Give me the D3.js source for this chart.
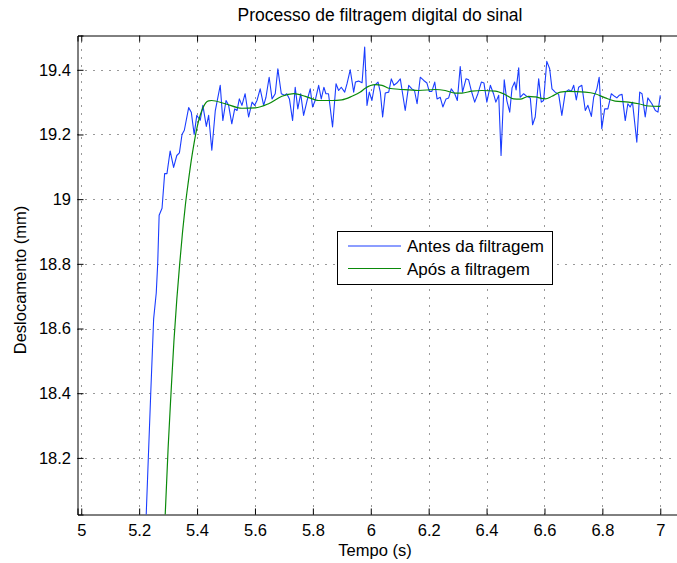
<!DOCTYPE html>
<html>
<head>
<meta charset="utf-8">
<script src="https://cdn.jsdelivr.net/npm/d3@7"></script>
<style>
  html, body { margin: 0; padding: 0; background: #fff; }
  svg { display: block; font-family: "Liberation Sans", Arial, Helvetica, sans-serif; }
</style>
</head>
<body>
<svg id="chart" width="677" height="563"></svg>
<script>
// ---- Data ----
const chartTitle = "Processo de filtragem digital do sinal";
const xLabel = "Tempo (s)";
const yLabel = "Deslocamento (mm)";
const seriesNames = ["Antes da filtragem", "Após a filtragem"];

const xTicks = [5, 5.2, 5.4, 5.6, 5.8, 6, 6.2, 6.4, 6.6, 6.8, 7];
const yTicks = [18.2, 18.4, 18.6, 18.8, 19, 19.2, 19.4];
const xLimits = [4.987, 7.0785];
const yLimits = [18.025, 19.506];

// Raw signal (blue)
const rawTime = [
  5.220, 5.230, 5.240, 5.250, 5.259, 5.264, 5.269, 5.279, 5.288, 5.296,
  5.307, 5.319, 5.330, 5.339, 5.348, 5.356, 5.371, 5.380, 5.390, 5.399,
  5.411, 5.420, 5.432, 5.440, 5.451, 5.463, 5.480, 5.489, 5.500, 5.509,
  5.520, 5.530, 5.538, 5.546, 5.555, 5.566, 5.578, 5.590, 5.599, 5.607,
  5.618, 5.630, 5.638, 5.649, 5.659, 5.670, 5.679, 5.691, 5.702, 5.710,
  5.719, 5.730, 5.739, 5.748, 5.758, 5.768, 5.780, 5.791, 5.799, 5.808,
  5.820, 5.829, 5.838, 5.845, 5.854, 5.868, 5.880, 5.889, 5.898, 5.910,
  5.918, 5.929, 5.941, 5.947, 5.958, 5.970, 5.979, 5.987, 5.995, 6.004,
  6.013, 6.025, 6.033, 6.041, 6.050, 6.062, 6.071, 6.080, 6.090, 6.102,
  6.110, 6.119, 6.131, 6.142, 6.151, 6.160, 6.171, 6.183, 6.194, 6.202,
  6.211, 6.221, 6.229, 6.240, 6.249, 6.260, 6.269, 6.278, 6.290, 6.299,
  6.309, 6.317, 6.329, 6.338, 6.347, 6.359, 6.370, 6.382, 6.391, 6.401,
  6.413, 6.424, 6.432, 6.442, 6.450, 6.461, 6.470, 6.480, 6.488, 6.497,
  6.502, 6.511, 6.516, 6.528, 6.539, 6.551, 6.559, 6.568, 6.580, 6.589,
  6.597, 6.608, 6.618, 6.626, 6.637, 6.649, 6.660, 6.672, 6.683, 6.693,
  6.701, 6.710, 6.718, 6.729, 6.741, 6.750, 6.762, 6.770, 6.781, 6.789,
  6.798, 6.808, 6.819, 6.831, 6.842, 6.850, 6.858, 6.868, 6.879, 6.888,
  6.896, 6.904, 6.919, 6.929, 6.937, 6.948, 6.957, 6.971, 6.983, 6.992,
  7.000
];
const rawValue = [
  17.920, 18.160, 18.400, 18.630, 18.710, 18.800, 18.950, 18.972, 19.079, 19.079,
  19.149, 19.098, 19.135, 19.143, 19.200, 19.213, 19.283, 19.269, 19.200, 19.259,
  19.244, 19.290, 19.225, 19.259, 19.151, 19.274, 19.352, 19.243, 19.305, 19.290,
  19.233, 19.279, 19.274, 19.310, 19.290, 19.326, 19.254, 19.300, 19.290, 19.305,
  19.341, 19.290, 19.315, 19.377, 19.310, 19.326, 19.403, 19.326, 19.321, 19.326,
  19.310, 19.243, 19.346, 19.279, 19.326, 19.259, 19.305, 19.341, 19.285, 19.305,
  19.352, 19.310, 19.346, 19.326, 19.326, 19.223, 19.357, 19.336, 19.346, 19.331,
  19.357, 19.400, 19.331, 19.362, 19.365, 19.360, 19.470, 19.290, 19.331, 19.305,
  19.352, 19.362, 19.331, 19.254, 19.328, 19.331, 19.372, 19.352, 19.359, 19.372,
  19.326, 19.274, 19.352, 19.341, 19.336, 19.295, 19.377, 19.367, 19.359, 19.333,
  19.333, 19.362, 19.310, 19.315, 19.285, 19.310, 19.313, 19.341, 19.326, 19.305,
  19.410, 19.331, 19.372, 19.369, 19.336, 19.300, 19.326, 19.362, 19.359, 19.300,
  19.352, 19.326, 19.300, 19.321, 19.135, 19.369, 19.305, 19.269, 19.344, 19.362,
  19.338, 19.406, 19.315, 19.326, 19.318, 19.313, 19.230, 19.254, 19.372, 19.300,
  19.305, 19.426, 19.403, 19.341, 19.331, 19.324, 19.259, 19.331, 19.338, 19.334,
  19.352, 19.307, 19.346, 19.352, 19.274, 19.290, 19.256, 19.315, 19.341, 19.377,
  19.218, 19.279, 19.279, 19.326, 19.318, 19.313, 19.321, 19.324, 19.243, 19.295,
  19.285, 19.300, 19.176, 19.331, 19.326, 19.254, 19.313, 19.295, 19.274, 19.269,
  19.321
];

// Filtered signal (green)
const filtTime = [
  5.280, 5.290, 5.300, 5.310, 5.320, 5.330, 5.340, 5.350, 5.360, 5.370,
  5.380, 5.390, 5.400, 5.410, 5.420, 5.430, 5.440, 5.450, 5.497, 5.555,
  5.601, 5.647, 5.693, 5.734, 5.774, 5.820, 5.866, 5.900, 5.935, 5.964,
  5.981, 6.016, 6.039, 6.062, 6.108, 6.165, 6.223, 6.257, 6.292, 6.315,
  6.350, 6.384, 6.430, 6.465, 6.493, 6.516, 6.545, 6.568, 6.603, 6.626,
  6.655, 6.683, 6.741, 6.775, 6.810, 6.844, 6.890, 6.925, 6.960, 7.000
];
const filtValue = [
  17.800, 18.025, 18.230, 18.400, 18.560, 18.690, 18.800, 18.900, 18.985, 19.055,
  19.120, 19.175, 19.222, 19.257, 19.282, 19.298, 19.304, 19.305, 19.295, 19.281,
  19.282, 19.295, 19.318, 19.326, 19.318, 19.305, 19.305, 19.307, 19.318, 19.331,
  19.343, 19.354, 19.352, 19.343, 19.339, 19.336, 19.339, 19.336, 19.328, 19.328,
  19.334, 19.336, 19.334, 19.323, 19.310, 19.309, 19.318, 19.316, 19.310, 19.318,
  19.331, 19.333, 19.331, 19.326, 19.313, 19.303, 19.300, 19.295, 19.288, 19.287
];

const seriesColors = ["#1a3dff", "#0a8a0a"];

// ---- Layout ----
const W = 677, H = 563;
const plot = { left: 77.5, right: 683, top: 35.5, bottom: 514.5 };

const svg = d3.select("#chart");
const x = d3.scaleLinear().domain(xLimits).range([plot.left, plot.right]);
const y = d3.scaleLinear().domain(yLimits).range([plot.bottom, plot.top]);

svg.append("rect").attr("width", W).attr("height", H).attr("fill", "#fff");

svg.append("defs").append("clipPath").attr("id", "clip")
  .append("rect")
  .attr("x", plot.left).attr("y", plot.top)
  .attr("width", plot.right - plot.left).attr("height", plot.bottom - plot.top);

// Grid (dotted)
const grid = svg.append("g").attr("class", "grid");
grid.selectAll("line.vx").data(xTicks).enter().append("line")
  .attr("x1", d => Math.round(x(d)) + 0.5).attr("x2", d => Math.round(x(d)) + 0.5)
  .attr("y1", plot.bottom).attr("y2", plot.top)
  .attr("stroke", "#333").attr("stroke-width", 1)
  .attr("stroke-dasharray", "1,7");
grid.selectAll("line.hy").data(yTicks).enter().append("line")
  .attr("y1", d => Math.round(y(d)) + 0.5).attr("y2", d => Math.round(y(d)) + 0.5)
  .attr("x1", plot.left).attr("x2", plot.right)
  .attr("stroke", "#333").attr("stroke-width", 1)
  .attr("stroke-dasharray", "1,7");

// Axes with inward ticks (MATLAB style)
const fmt = d => String(+d.toFixed(1));
const xAxis = d3.axisBottom(x).tickValues(xTicks).tickSize(-6).tickPadding(10).tickFormat(fmt);
const yAxis = d3.axisLeft(y).tickValues(yTicks).tickSize(-6).tickPadding(6.5).tickFormat(fmt);
const xTop = d3.axisTop(x).tickValues(xTicks).tickSize(-6).tickFormat("");

const gx = svg.append("g").attr("transform", `translate(0,${plot.bottom})`).call(xAxis);
const gy = svg.append("g").attr("transform", `translate(${plot.left},0)`).call(yAxis);
const gt = svg.append("g").attr("transform", `translate(0,${plot.top})`).call(xTop);

[gx, gy, gt].forEach(g => {
  g.select(".domain").attr("stroke", "#000").attr("stroke-width", 1);
  g.selectAll(".tick line").attr("stroke", "#000");
  g.selectAll(".tick text").attr("fill", "#000")
    .style("font-family", '"Liberation Sans", Arial, sans-serif')
    .style("font-size", "16.5px");
});

// Lines
const lineRaw = d3.line().x(d => x(d[0])).y(d => y(d[1]));
const lineFilt = d3.line().x(d => x(d[0])).y(d => y(d[1])).curve(d3.curveMonotoneX);

const lines = svg.append("g").attr("clip-path", "url(#clip)");
lines.append("path")
  .datum(rawTime.map((t, i) => [t, rawValue[i]]))
  .attr("d", lineRaw).attr("fill", "none")
  .attr("stroke", seriesColors[0]).attr("stroke-width", 1.1)
  .attr("stroke-linejoin", "round");
lines.append("path")
  .datum(filtTime.map((t, i) => [t, filtValue[i]]))
  .attr("d", lineFilt).attr("fill", "none")
  .attr("stroke", seriesColors[1]).attr("stroke-width", 1.2)
  .attr("stroke-linejoin", "round");

// Title and axis labels
svg.append("text").attr("x", 380).attr("y", 21).attr("text-anchor", "middle")
  .style("font-size", "17.5px").attr("fill", "#000").text(chartTitle);
svg.append("text").attr("x", 375).attr("y", 556).attr("text-anchor", "middle")
  .style("font-size", "16.5px").attr("fill", "#000").text(xLabel);
svg.append("text").attr("transform", "translate(26,280) rotate(-90)")
  .attr("text-anchor", "middle")
  .style("font-size", "16.5px").attr("fill", "#000").text(yLabel);

// Legend
const lg = svg.append("g");
lg.append("rect").attr("x", 337.5).attr("y", 231.5).attr("width", 215).attr("height", 53)
  .attr("fill", "#fff").attr("stroke", "#000").attr("stroke-width", 1);
seriesNames.forEach((name, i) => {
  const yy = 246 + i * 22.5;
  lg.append("line").attr("x1", 348).attr("x2", 401).attr("y1", yy).attr("y2", yy)
    .attr("stroke", seriesColors[i]).attr("stroke-width", 1.1);
  lg.append("text").attr("x", 407).attr("y", yy + 6)
    .style("font-size", "17px").attr("fill", "#000").text(name);
});
</script>
</body>
</html>
